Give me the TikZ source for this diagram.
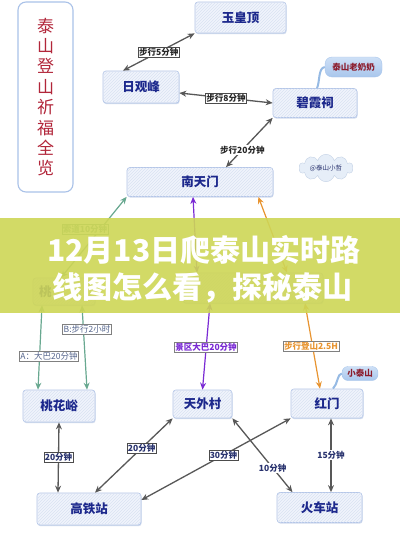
\documentclass[tikz,border=0pt]{standalone}
\usepackage{fontspec}
\setmainfont{Noto Sans CJK SC}
\usetikzlibrary{arrows.meta,shapes.symbols,patterns,shadows,calc}
\definecolor{navy}{RGB}{28,40,140}
\definecolor{boxfill}{RGB}{240,244,252}
\definecolor{boxdraw}{RGB}{180,198,232}
\definecolor{stripe}{RGB}{218,226,242}
\definecolor{shadowc}{RGB}{190,204,230}
\definecolor{arrowgray}{RGB}{88,88,88}
\definecolor{gr}{RGB}{104,168,144}
\definecolor{pu}{RGB}{122,42,212}
\definecolor{org}{RGB}{232,148,48}
\definecolor{titlered}{RGB}{178,38,58}
\definecolor{titledraw}{RGB}{170,194,232}
\definecolor{bubtop}{RGB}{206,224,246}
\definecolor{bubbot}{RGB}{168,198,236}
\definecolor{bubtext}{RGB}{140,28,44}
\definecolor{bubline}{RGB}{150,186,228}
\definecolor{cloudfill}{RGB}{230,238,248}
\definecolor{clouddraw}{RGB}{196,210,230}
\definecolor{banner}{RGB}{206,214,86}
\definecolor{labgray}{RGB}{84,100,140}
\definecolor{labdark}{RGB}{40,50,110}
\begin{document}
\begin{tikzpicture}[x=1pt,y=-1pt,
  place/.style={draw=boxdraw, line width=0.7pt, rounded corners=3pt, fill=boxfill,
    drop shadow={shadow xshift=0.6pt,shadow yshift=-1.2pt,fill=shadowc,opacity=0.7},
    postaction={pattern=north east lines, pattern color=stripe},
    font=\bfseries\fontsize{12.5}{14}\selectfont, text=navy, inner sep=0pt},
  elab/.style={fill=white, draw=black!70, line width=0.45pt, inner sep=1pt,
    font=\bfseries\fontsize{8.5}{9}\selectfont, text=black!85},
  dbl/.style={arrows={Stealth[length=7pt,width=6pt]-Stealth[length=7pt,width=6pt]}},
  gline/.style={draw=arrowgray, line width=1.3pt, dbl},
  cline/.style={line width=1.2pt, dbl},
  bubble/.style={rounded corners=7pt, top color=bubtop, bottom color=bubbot, draw=bubbot,
    text=bubtext, font=\bfseries\fontsize{8.5}{9}\selectfont, inner sep=0pt}
]
\useasboundingbox (0,0) rectangle (400,533);
\fill[white] (0,0) rectangle (400,533);

% title box
\node[draw=titledraw, line width=1.1pt, rounded corners=8pt, fill=white,
  minimum width=55pt, minimum height=190pt, align=center, text=titlered,
  font=\fontsize{17}{20.4}\selectfont] (title) at (45.5,97)
  {泰\\山\\登\\山\\祈\\福\\全\\览};

% places
\node[place, minimum width=91pt, minimum height=31pt] (yhd) at (240.5,17.5) {玉皇顶};
\node[place, minimum width=76pt, minimum height=32pt] (rgf) at (141,87) {日观峰};
\node[place, minimum width=84pt, minimum height=29pt] (bxc) at (315,103) {碧霞祠};
\node[place, minimum width=146pt, minimum height=29pt] (ntm) at (200,182) {南天门};
\node[place, minimum width=62pt, minimum height=27pt, text width=50pt, align=left] (tao) at (64,291.5) {桃};
\node[place, minimum width=140pt, minimum height=30pt] (ztm) at (253,288) {};
\node[place, minimum width=72pt, minimum height=32pt] (thy) at (59,406) {桃花峪};
\node[place, minimum width=59pt, minimum height=28pt] (twc) at (202.5,404) {天外村};
\node[place, minimum width=72pt, minimum height=29pt] (hm) at (327,403.5) {红门};
\node[place, minimum width=104pt, minimum height=32pt] (gtz) at (89,509) {高铁站};
\node[place, minimum width=85pt, minimum height=30pt] (hcz) at (319.5,507.5) {火车站};

% bubbles
\node[bubble, minimum width=57pt, minimum height=20pt] (nn) at (353.5,67) {泰山老奶奶};
\draw[bubline, line width=2pt] (nn.west) .. controls (318,68) and (320,82) .. ([xshift=2pt]bxc.north);
\node[bubble, rounded corners=6pt, minimum width=36pt, minimum height=14pt] (xts) at (360,373.5) {小泰山};
\draw[bubline, line width=2pt] (xts.west) .. controls (337,374) and (338,384) .. ([xshift=6pt]hm.north);
\node[cloud, cloud puffs=10, aspect=2.6, fill=cloudfill, draw=clouddraw, inner sep=0pt,
  minimum width=54pt, minimum height=22pt, text=labdark, font=\fontsize{6.5}{7}\selectfont] (xz) at (326,168) {@泰山小哲};

% gray connectors
\draw[gline] ([xshift=-18pt]rgf.north) -- (yhd.south west) node[elab, pos=0.5] {步行5分钟};
\draw[gline] ([yshift=-6pt]rgf.east) -- (bxc.west) node[elab, pos=0.5] {步行8分钟};
\draw[gline] (bxc.south west) -- ([xshift=26pt]ntm.north) node[elab, pos=0.65, draw=none] {步行20分钟};

% colored connectors
\draw[cline, gr] (ntm.south west) -- ([xshift=-3pt]tao.north);
\node[elab, draw=gr, text=gr] (sd) at (85,229) {索道10分钟};
\draw[cline, pu] ([xshift=-7pt]ntm.south) -- ([xshift=-56pt]ztm.north);
\draw[cline, org] ([xshift=-15pt]ntm.south east) -- ([xshift=34pt]ztm.north);
\draw[cline, pu] ([xshift=-43pt]ztm.south) -- (twc.north);
\node[elab, draw=gray, text=pu] (l1) at (206,347) {景区大巴20分钟};
\draw[cline, org] ([xshift=52pt]ztm.south) -- ([xshift=-7pt]hm.north);
\node[elab, draw=gray, text=org] (l2) at (311,346) {步行登山2.5H};
\draw[cline, gr] ([xshift=-22pt]tao.south) -- ([xshift=-21pt]thy.north);
\draw[cline, gr] ([xshift=18pt]tao.south) -- ([xshift=28pt]thy.north);
\node[elab, draw=gray, text=labgray, font=\fontsize{8.5}{9}\selectfont] (la) at (87,329) {B:步行2小时};
\node[elab, draw=gray, text=labgray, font=\fontsize{8.5}{9}\selectfont] (lb) at (49,356) {A：大巴20分钟};

% bottom connectors
\draw[gline] (thy.south) -- ([xshift=-31pt]gtz.north) node[elab, pos=0.5, text=labdark] {20分钟};
\draw[gline] ([xshift=6pt]gtz.north) -- (twc.south west) node[elab, pos=0.6, text=labdark] {20分钟};
\draw[gline] ([yshift=9pt]gtz.east) -- (hm.south west) node[elab, pos=0.55, text=labdark] {30分钟};
\draw[gline] (twc.south east) -- ([xshift=-27pt]hcz.north) node[elab, pos=0.67, draw=none, text=labdark] {10分钟};
\draw[gline] ([xshift=4pt]hm.south) -- ([xshift=11.5pt]hcz.north) node[elab, pos=0.5, draw=none, text=labdark] {15分钟};

% banner
\fill[banner, opacity=0.9] (0,218) rectangle (400,313);
\node[anchor=west, text=white, inner sep=0pt, font=\bfseries\fontsize{30}{32}\selectfont] (t1) at (47,250) {12月13日爬泰山实时路};
\node[anchor=west, text=white, inner sep=0pt, font=\bfseries\fontsize{30}{32}\selectfont] (t2) at (52,288) {线图怎么看，探秘泰山};
\end{tikzpicture}
\end{document}
